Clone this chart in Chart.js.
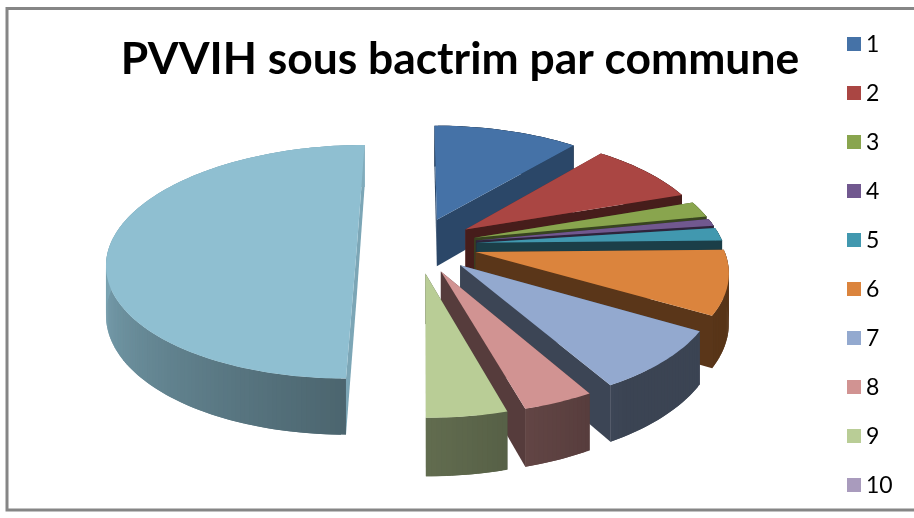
<!DOCTYPE html>
<html>
<head>
<meta charset="utf-8">
<title>PVVIH sous bactrim par commune</title>
<script src="https://cdn.jsdelivr.net/npm/chart.js@4"></script>
<style>
    html, body { margin: 0; padding: 0; background: #fff; }
    canvas { display: block; }
</style>
</head>
<body>
<canvas id="myChart" width="914" height="518"></canvas>
<script>
const communes = ['1', '2', '3', '4', '5', '6', '7', '8', '9', '10', '11'];
const patients = [11.1, 8.6, 2.2, 1, 1.8, 8.8, 8.3, 3.9, 4.4, 0, 50];
const sliceColors = ['#4572a7', '#aa4643', '#89a54e', '#71588f', '#4198af', '#db843d',
    '#93a9cf', '#d19392', '#b9cd96', '#a99bbd', '#8fbfd1'];
const legendCount = 10; // the reference legend stops at 10

// camera used to lay the flat pie down
const viewX = 417;
const viewY = 245;
const tilt = 0.463;
const persp = 0.000584;
const wallHeight = 48;

function project(dx, dy, drop) {
    let s = 1 / (1 - persp * dy);
    return [viewX + dx * s, viewY + tilt * dy * s + drop * s];
}

function shade(hex, f) {
    let n = parseInt(hex.slice(1), 16);
    let r = Math.round((n >> 16 & 255) * f);
    let g = Math.round((n >> 8 & 255) * f);
    let b = Math.round((n & 255) * f);
    return 'rgb(' + r + ',' + g + ',' + b + ')';
}

function fillPoly(ctx, pts, color) {
    ctx.beginPath();
    pts.forEach((p, i) => i ? ctx.lineTo(p[0], p[1]) : ctx.moveTo(p[0], p[1]));
    ctx.closePath();
    ctx.fillStyle = color;
    ctx.fill();
}

// degrees clockwise from the top of the pie
function clockDeg(angle) {
    return (angle + Math.PI / 2) * 180 / Math.PI;
}

function rimShade(deg) {
    let f = 0.53 + (deg - 180) * 0.34 / 90;
    return Math.min(0.9, Math.max(0.4, f));
}

function cutShade(deg) {
    if (deg >= 175) return 0.87;
    if (deg < 60) return 0.62;
    return 0.41;
}

function drawSlice(ctx, arc) {
    let props = arc.getProps(['startAngle', 'endAngle', 'outerRadius']);
    let start = props.startAngle;
    let end = props.endAngle;
    let r = props.outerRadius;
    if (end - start <= 0) return;
    let color = arc.options.backgroundColor;
    let mid = (start + end) / 2;
    let ex = Math.cos(mid) * arc.options.offset;
    let ey = Math.sin(mid) * arc.options.offset;

    let steps = Math.max(2, Math.ceil((end - start) * 180 / Math.PI));
    let rim = [];
    for (let i = 0; i <= steps; i++) {
        let t = start + (end - start) * i / steps;
        rim.push({ t: t, dx: ex + r * Math.cos(t), dy: ey + r * Math.sin(t) });
    }
    let first = rim[0];
    let last = rim[rim.length - 1];

    let faces = [];
    [first, last].forEach((p) => {
        faces.push({
            depth: (ey + p.dy) / 2,
            pts: [project(ex, ey, 0), project(p.dx, p.dy, 0), project(p.dx, p.dy, wallHeight), project(ex, ey, wallHeight)],
            color: shade(color, cutShade(clockDeg(p.t)))
        });
    });
    faces.push({ depth: rim.reduce((sum, p) => sum + p.dy, 0) / rim.length, rim: true });
    faces.sort((a, b) => a.depth - b.depth);
    faces.forEach((face) => {
        if (!face.rim) {
            fillPoly(ctx, face.pts, face.color);
            return;
        }
        // each strip runs under the next one so no seam shows
        for (let i = 0; i < steps; i++) {
            let a = rim[i];
            let b = rim[Math.min(i + 2, steps)];
            let col = shade(color, rimShade(clockDeg(a.t)));
            fillPoly(ctx, [project(a.dx, a.dy, 0), project(b.dx, b.dy, 0), project(b.dx, b.dy, wallHeight), project(a.dx, a.dy, wallHeight)], col);
        }
    });

    let top = [project(ex, ey, 0)];
    rim.forEach((p) => top.push(project(p.dx, p.dy, 0)));
    fillPoly(ctx, top, color);
}

// the built in legend cannot hold this row spacing on a 518px canvas
function drawLegend(chart) {
    let ctx = chart.ctx;
    let items = Chart.overrides.pie.plugins.legend.labels.generateLabels(chart).slice(0, legendCount);
    ctx.save();
    ctx.font = '23px Lato';
    ctx.textBaseline = 'middle';
    items.forEach((item, i) => {
        let y = 44 + i * 49;
        ctx.fillStyle = item.fillStyle;
        ctx.fillRect(847, y - 7, 14, 14);
        ctx.fillStyle = '#000';
        ctx.fillText(item.text, 866, y + 1);
    });
    ctx.restore();
}

const tiltedPie = {
    id: 'tiltedPie',
    beforeDraw(chart) {
        let ctx = chart.ctx;
        ctx.save();
        ctx.fillStyle = '#fff';
        ctx.fillRect(0, 0, chart.width, chart.height);
        // frame is cut off on the right in the reference
        ctx.strokeStyle = '#868686';
        ctx.lineWidth = 3;
        ctx.beginPath();
        ctx.moveTo(chart.width, 8.5);
        ctx.lineTo(7, 8.5);
        ctx.lineTo(7, 510);
        ctx.lineTo(chart.width, 510);
        ctx.stroke();
        ctx.restore();
    },
    beforeDatasetDraw(chart, args) {
        let ctx = chart.ctx;
        ctx.save();
        args.meta.data.forEach((arc) => drawSlice(ctx, arc));
        ctx.restore();
        return false;
    },
    afterDraw: drawLegend
};

let myChart = document.getElementById('myChart').getContext('2d');
let communeChart = new Chart(myChart, {
    type: 'pie',
    data: {
        labels: communes,
        datasets: [{
            label: 'PVVIH',
            data: patients,
            backgroundColor: sliceColors,
            borderWidth: 0,
            offset: 60,
            radius: 247
        }]
    },
    options: {
        responsive: false,
        animation: false,
        layout: { padding: { top: 10, right: 0, bottom: 0, left: 6 } },
        plugins: {
            title: {
                display: true,
                text: 'PVVIH sous bactrim par commune',
                color: '#000',
                font: { family: 'Lato', size: 44.4, weight: 'bold' },
                padding: { top: 23, bottom: 10 }
            },
            legend: { display: false },
            tooltip: { enabled: false }
        }
    },
    plugins: [tiltedPie]
});
</script>
</body>
</html>
